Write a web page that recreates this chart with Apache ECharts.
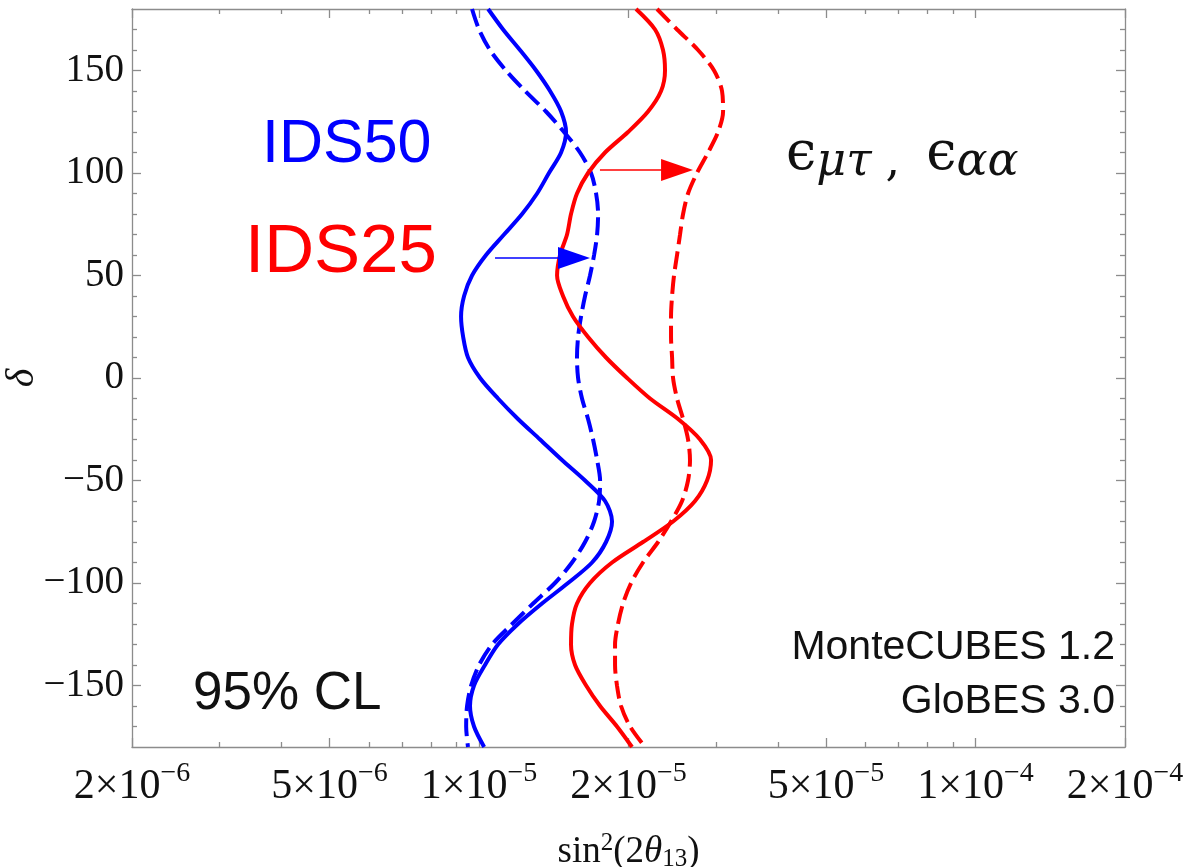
<!DOCTYPE html>
<html><head><meta charset="utf-8">
<script src="https://cdn.jsdelivr.net/npm/echarts@6/dist/echarts.min.js"></script>
<style>html,body{margin:0;padding:0;background:#fff}#c{width:1190px;height:867px}</style>
</head><body><div id="c"></div>
<script>
// sin^2(2θ13) range and ticks
const xMin = 2e-6, xMax = 2e-4;
const xTickMajor = [2e-6, 5e-6, 1e-5, 2e-5, 5e-5, 1e-4, 2e-4];
const xTickMinor = [3e-6, 4e-6, 6e-6, 7e-6, 8e-6, 9e-6, 3e-5, 4e-5, 6e-5, 7e-5, 8e-5, 9e-5];
// δ range and ticks
const yMin = -180, yMax = 180;
const yTickMajor = [-150, -100, -50, 0, 50, 100, 150];
const yTickMinor = [-170, -160, -140, -130, -120, -110, -90, -80, -70, -60, -40, -30, -20, -10,
  10, 20, 30, 40, 60, 70, 80, 90, 110, 120, 130, 140, 160, 170];

// δ grid on which the contours were read (degrees)
const deltaGrid = [180, 170, 160, 150, 140, 130, 120, 110, 100, 90, 80, 70, 60, 50, 40, 30, 20, 10, 0,
  -10, -20, -30, -40, -50, -60, -70, -80, -90, -100, -110, -120, -130, -140, -150, -160, -170, -180];
// sin^2(2θ13) values of each contour at those δ (units of 1e-5)
const ids50Solid = [1.043, 1.118, 1.209, 1.303, 1.390, 1.463, 1.497, 1.463, 1.383, 1.309, 1.221, 1.123, 1.033,
  0.968, 0.933, 0.920, 0.929, 0.950, 1.005, 1.092, 1.198, 1.327, 1.469, 1.635, 1.794, 1.853, 1.802, 1.689,
  1.511, 1.339, 1.198, 1.092, 1.028, 0.977, 0.959, 0.977, 1.024];
const ids50Dashed = [0.968, 1.000, 1.052, 1.133, 1.238, 1.364, 1.483, 1.597, 1.681, 1.721, 1.737, 1.729, 1.705,
  1.673, 1.635, 1.605, 1.583, 1.575, 1.583, 1.612, 1.658, 1.697, 1.729, 1.753, 1.745, 1.705, 1.635, 1.539,
  1.422, 1.285, 1.166, 1.062, 1.000, 0.964, 0.946, 0.942, 0.950];
const ids25Solid = [2.071, 2.262, 2.347, 2.369, 2.326, 2.190, 1.996, 1.794, 1.658, 1.575, 1.532, 1.504, 1.456,
  1.436, 1.476, 1.546, 1.658, 1.802, 1.987, 2.210, 2.517, 2.787, 2.933, 2.879, 2.723, 2.459, 2.139, 1.853,
  1.673, 1.575, 1.539, 1.532, 1.561, 1.643, 1.753, 1.896, 2.033];
const ids25Dashed = [2.283, 2.505, 2.761, 2.974, 3.086, 3.101, 3.030, 2.893, 2.748, 2.636, 2.576, 2.540, 2.505,
  2.470, 2.448, 2.436, 2.436, 2.448, 2.459, 2.505, 2.576, 2.636, 2.660, 2.636, 2.564, 2.436, 2.294, 2.139,
  2.024, 1.950, 1.905, 1.879, 1.879, 1.896, 1.932, 2.015, 2.159];
const valueUnit = 1e-5;

// arrows (δ level, start, end in units of 1e-5)
const arrowDelta = [58.5, 101.5];
const arrowFrom = [1.077, 1.752];
const arrowTo = [1.673, 2.698];
const arrowColors = ['#0000ff', '#ff0000'];

const L10 = v => Math.log10(v);
const frame = '#8c8c8c';
const supLabel = v => {
  const e = Math.floor(v + 1e-9);
  const m = Math.round(Math.pow(10, v - e));
  return '{b|' + m + '×10}{s|−' + Math.abs(e) + '}';
};
const yLabel = v => (v < 0 ? '−' + Math.abs(v) : String(v));

function xAx(pos, ticks, len, line, labels) {
  return {
    type: 'value', position: pos, min: L10(xMin), max: L10(xMax),
    axisLine: {show: line, onZero: false, lineStyle: {color: frame, width: 1.3}},
    axisTick: {show: true, inside: true, length: len, customValues: ticks.map(L10), lineStyle: {color: frame, width: 1.3}},
    axisLabel: labels ? {
      show: true, customValues: ticks.map(L10), formatter: supLabel, margin: 19,
      rich: {
        b: {fontFamily: 'Liberation Serif', fontSize: 42, color: '#111', lineHeight: 42},
        s: {fontFamily: 'Liberation Serif', fontSize: 28, color: '#111', lineHeight: 28, padding: [0, 0, 26, 0]}
      }
    } : {show: false},
    splitLine: {show: false}
  };
}
function yAx(pos, ticks, len, line, labels) {
  return {
    type: 'value', position: pos, min: yMin, max: yMax,
    axisLine: {show: line, onZero: false, lineStyle: {color: frame, width: 1.3}},
    axisTick: {show: true, inside: true, length: len, customValues: ticks, lineStyle: {color: frame, width: 1.3}},
    axisLabel: labels ? {show: true, customValues: ticks, formatter: yLabel, margin: 8,
      fontFamily: 'Liberation Serif', fontSize: 39, color: '#111'} : {show: false},
    splitLine: {show: false}
  };
}

const xAxes = [
  {type: 'log', logBase: 10, min: xMin, max: xMax, show: false, axisLine: {onZero: false}, splitLine: {show: false}},
  Object.assign(xAx('bottom', xTickMajor, 9, true, true), {
    name: '{n|sin}{sup|2}{n|(2}{it|θ}{sub|13}{n|)}', nameLocation: 'middle', nameGap: 84,
    nameTextStyle: {rich: {
      n: {fontFamily: 'Liberation Serif', fontSize: 37, color: '#111'},
      sup: {fontFamily: 'Liberation Serif', fontSize: 25, color: '#111', padding: [0, 0, 18, 0]},
      it: {fontFamily: 'Liberation Serif', fontSize: 37, fontStyle: 'italic', color: '#111'},
      sub: {fontFamily: 'Liberation Serif', fontSize: 25, color: '#111', padding: [14, 0, 0, 0]}
    }}
  }),
  xAx('bottom', xTickMinor, 5, false, false),
  xAx('top', xTickMajor, 9, true, false),
  xAx('top', xTickMinor, 5, false, false)
];
const yAxes = [
  Object.assign(yAx('left', yTickMajor, 9, true, true), {
    name: 'δ', nameLocation: 'middle', nameRotate: 90, nameGap: 90, nameMoveOverlap: false,
    nameTextStyle: {fontFamily: 'Liberation Serif', fontStyle: 'italic', fontSize: 40, color: '#111'}
  }),
  yAx('left', yTickMinor, 5, false, false),
  yAx('right', yTickMajor, 9, true, false),
  yAx('right', yTickMinor, 5, false, false)
];

function curve(name, vals, color, dashed) {
  return {
    name, type: 'line', xAxisIndex: 0, yAxisIndex: 0,
    data: vals.map((v, i) => [v * valueUnit, deltaGrid[i]]),
    showSymbol: false, smooth: 0.3,
    lineStyle: {color, width: 4, type: dashed ? [18, 7] : 'solid', cap: 'butt'}, z: 3
  };
}

const chart = echarts.init(document.getElementById('c'), null, {renderer: 'canvas'});
chart.setOption({
  animation: false,
  backgroundColor: '#ffffff',
  grid: {left: 132, right: 65, top: 9, bottom: 120, containLabel: false, outerBoundsMode: 'none'},
  xAxis: xAxes,
  yAxis: yAxes,
  series: [
    curve('IDS50 solid', ids50Solid, '#0000ff', false),
    curve('IDS50 dashed', ids50Dashed, '#0000ff', true),
    curve('IDS25 solid', ids25Solid, '#ff0000', false),
    curve('IDS25 dashed', ids25Dashed, '#ff0000', true),
    {
      type: 'custom', xAxisIndex: 0, yAxisIndex: 0, z: 5,
      encode: {x: [0, 1], y: 2},
      data: arrowDelta.map((d, i) => [arrowFrom[i] * valueUnit, arrowTo[i] * valueUnit, d]),
      renderItem: (params, api) => {
        const a = api.coord([api.value(0), api.value(2)]);
        const b = api.coord([api.value(1), api.value(2)]);
        const c = arrowColors[params.dataIndex];
        const L = 32, H = 11;
        return {type: 'group', children: [
          {type: 'line', shape: {x1: a[0], y1: a[1], x2: b[0] - L + 2, y2: b[1]}, style: {stroke: c, lineWidth: 1.5}},
          {type: 'polygon', shape: {points: [[b[0], b[1]], [b[0] - L, b[1] - H], [b[0] - L, b[1] + H]]}, style: {fill: c}}
        ]};
      }
    }
  ],
  graphic: [
    {type: 'text', left: 262, top: 115, style: {text: 'IDS50', fill: '#0000ff', font: '61px "Liberation Sans"'}},
    {type: 'text', left: 245, top: 218, style: {text: 'IDS25', fill: '#ff0000', font: '69px "Liberation Sans"'}},
    {type: 'text', left: 193, top: 668, style: {text: '95% CL', fill: '#111', font: '53px "Liberation Sans"'}},
    {type: 'text', right: 75, top: 627, style: {text: 'MonteCUBES 1.2', fill: '#111', font: '41px "Liberation Sans"', align: 'right'}},
    {type: 'text', right: 75, top: 681, style: {text: 'GloBES 3.0', fill: '#111', font: '41px "Liberation Sans"', align: 'right'}},
    {type: 'text', left: 786, top: 124, style: {
      text: '{e|ϵ}{s|μτ}{c|,}{e|ϵ}{s|αα}',
      rich: {
        e: {fontFamily: 'DejaVu Serif', fontSize: 54, fill: '#111', lineHeight: 54},
        s: {fontFamily: 'DejaVu Serif', fontStyle: 'italic', fontSize: 46, fill: '#111', lineHeight: 46, padding: [16, 0, 0, 0]},
        c: {fontFamily: 'DejaVu Serif', fontSize: 46, fill: '#111', lineHeight: 46, padding: [16, 26, 0, 14]}
      }
    }}
  ]
});
</script></body></html>
